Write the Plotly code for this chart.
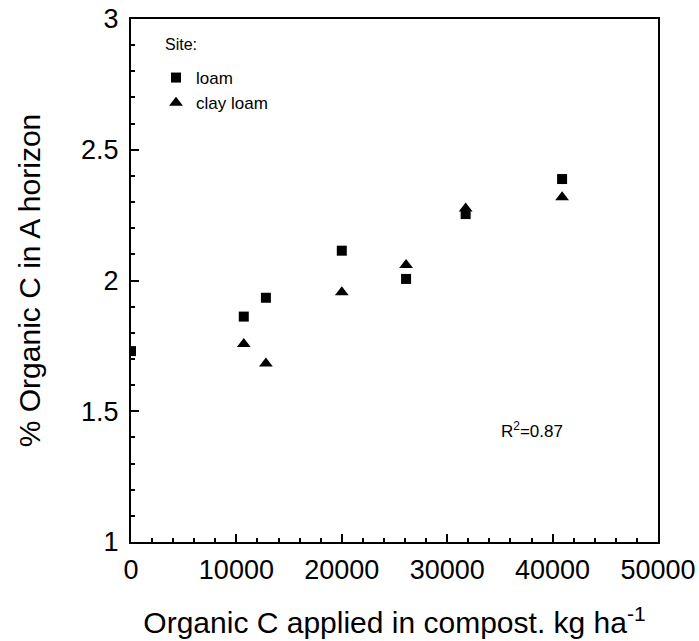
import plotly.graph_objects as go

# Data
loam_x = [0, 10700, 12800, 20000, 26100, 31750, 40900]
loam_y = [1.73, 1.862, 1.934, 2.114, 2.006, 2.254, 2.388]
clay_x = [10700, 12800, 20000, 26100, 31750, 40900]
clay_y = [1.757, 1.683, 1.955, 2.059, 2.275, 2.318]

x_ticks = [0, 10000, 20000, 30000, 40000, 50000]
x_tick_text = ["0", "10000", "20000", "30000", "40000", "50000"]
y_ticks = [1, 1.5, 2, 2.5, 3]
y_tick_text = ["1", "1.5", "2", "2.5", "3"]

FONT = "Liberation Sans"

fig = go.Figure()
fig.add_trace(go.Scatter(x=loam_x, y=loam_y, mode="markers", name="loam",
                         marker=dict(symbol="square", size=10, color="black")))
fig.add_trace(go.Scatter(x=clay_x, y=clay_y, mode="markers", name="clay loam",
                         marker=dict(symbol="triangle-up", size=12, color="black")))

fig.add_annotation(x=38000, y=1.43, xref="x", yref="y", text="R<sup>2</sup>=0.87",
                   showarrow=False, font=dict(family=FONT, size=17, color="black"))
fig.add_annotation(x=(163 - 131) / 527, y=(542 - 44) / 523, xref="paper", yref="paper",
                   text="Site:", showarrow=False, xanchor="left", yanchor="middle",
                   font=dict(family=FONT, size=16, color="black"))

fig.update_layout(
    width=699, height=641,
    margin=dict(l=131, r=41, t=19, b=99, autoexpand=False),
    paper_bgcolor="white", plot_bgcolor="white",
    font=dict(family=FONT, color="black"),
    showlegend=True,
    legend=dict(x=(156 - 131) / 527, y=(542 - 60) / 523, xanchor="left", yanchor="top",
                font=dict(family=FONT, size=17), bgcolor="rgba(0,0,0,0)",
                itemwidth=30, tracegroupgap=0),
    xaxis=dict(range=[0, 50000], tickvals=x_ticks, ticktext=x_tick_text,
               ticks="inside", ticklen=8, automargin=False,
               tickwidth=2, tickcolor="black", showline=True, linewidth=2,
               linecolor="black", mirror=True, showgrid=False, zeroline=False,
               tickfont=dict(family=FONT, size=27), ticklabelstandoff=3,
               minor=dict(dtick=2000, ticks="inside", ticklen=4, tickwidth=2,
                          tickcolor="black", showgrid=False),
               title=dict(text="Organic C applied in compost. kg ha<sup>-1</sup>",
                          font=dict(family=FONT, size=30), standoff=28)),
    yaxis=dict(range=[1, 3], tickvals=y_ticks, ticktext=y_tick_text, ticks="inside",
               ticklen=8, tickwidth=2, tickcolor="black", showline=True, linewidth=2,
               linecolor="black", mirror=True, showgrid=False, zeroline=False,
               automargin=False,
               tickfont=dict(family=FONT, size=27), ticklabelstandoff=5,
               minor=dict(dtick=0.1, ticks="inside", ticklen=4, tickwidth=2,
                          tickcolor="black", showgrid=False),
               title=dict(text="% Organic C in A horizon",
                          font=dict(family=FONT, size=30), standoff=32)),
)

fig.write_html("out.html")
